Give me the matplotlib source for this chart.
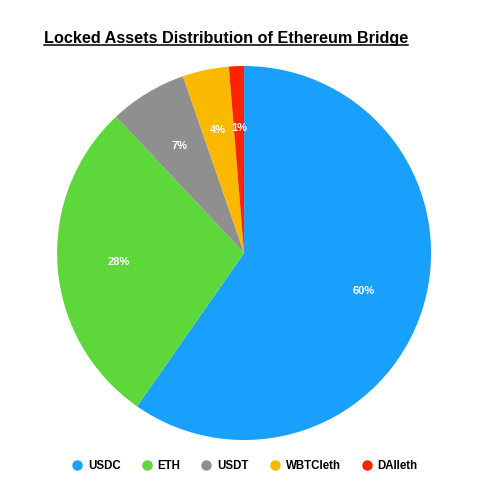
import matplotlib
matplotlib.use("Agg")
import matplotlib.pyplot as plt
from matplotlib.lines import Line2D

# values (percent of locked value)
assets = ["USDC", "ETH", "USDT", "WBTCleth", "DAIleth"]
shares = [59.7, 28.3, 6.7, 4.0, 1.3]
colors = ["#199ffc", "#5dd739", "#8f8f8f", "#fbb800", "#fb2300"]

plt.rcParams["font.family"] = ["Liberation Sans", "DejaVu Sans"]

fig = plt.figure(figsize=(4.84, 5.0), dpi=100)
ax = fig.add_axes([0.1178, 0.12, 0.773, 0.748])

wedges, texts, autotexts = ax.pie(
    shares,
    colors=colors,
    startangle=90,
    counterclock=False,
    autopct=lambda p: f"{p:.0f}%",
    pctdistance=0.67,
    wedgeprops={"linewidth": 0},
    textprops={"color": "white", "fontsize": 8, "fontweight": "bold"},
)
ax.set_xlim(-1, 1)
ax.set_ylim(-1, 1)
ax.set_aspect("equal")

# title with underline
title = fig.text(0.467, 0.924, "Locked Assets Distribution of Ethereum Bridge",
                 ha="center", va="center", fontsize=11.7, fontweight="bold")
fig.canvas.draw()
bb = title.get_window_extent().transformed(fig.transFigure.inverted())
fig.add_artist(Line2D([bb.x0, bb.x1], [bb.y0 + 0.002, bb.y0 + 0.002],
                      transform=fig.transFigure, color="black", linewidth=1.1))

handles = [Line2D([], [], marker="o", linestyle="none", markersize=6.5,
                  markerfacecolor=c, markeredgecolor=c) for c in colors]
leg = fig.legend(handles, assets, loc="center", bbox_to_anchor=(0.505, 0.068),
                 ncol=5, frameon=False, handlelength=1.0, handletextpad=0.45,
                 columnspacing=1.75, prop={"size": 8.3, "weight": "bold"})

fig.savefig("out.png", dpi=100)
